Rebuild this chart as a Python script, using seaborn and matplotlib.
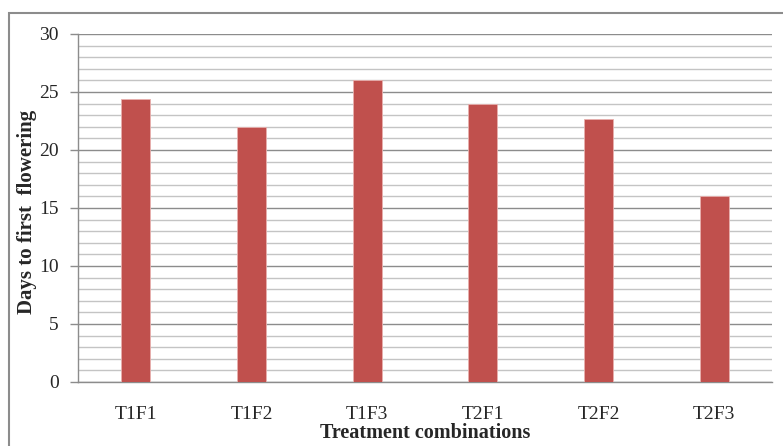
import matplotlib
matplotlib.use("Agg")
import matplotlib.pyplot as plt
import seaborn as sns
import pandas as pd
from matplotlib.patches import Rectangle
from matplotlib.ticker import MultipleLocator

categories = ["T1F1", "T1F2", "T1F3", "T2F1", "T2F2", "T2F3"]
days = [24.4, 22.0, 26.0, 24.0, 22.7, 16.0]

sns.set_style("white")
plt.rcParams['font.family'] = ['Liberation Serif', 'DejaVu Serif']

df = pd.DataFrame({"cat": categories, "days": days})

fig = plt.figure(figsize=(7.83, 4.46), dpi=100)
ax = fig.add_axes([78/783, 1 - 382/446, 694/783, 348/446])

sns.barplot(data=df, x="cat", y="days", color="#C0504D", width=0.25,
            saturation=1, edgecolor="#e8b0ae", linewidth=0.6, ax=ax, zorder=3)

ax.set_ylim(0, 30)
ax.set_xlim(-0.5, 5.5)
ax.yaxis.set_major_locator(MultipleLocator(5))
ax.yaxis.set_minor_locator(MultipleLocator(1))
ax.grid(which="major", axis="y", color="#8c8c8c", linewidth=1.0, zorder=0)
ax.grid(which="minor", axis="y", color="#c4c4c4", linewidth=1.0, zorder=0)
ax.set_axisbelow(True)

for s in ["top", "right"]:
    ax.spines[s].set_visible(False)
ax.spines["left"].set_color("#8c8c8c")
ax.spines["bottom"].set_color("#8c8c8c")
ax.spines["left"].set_linewidth(1.0)
ax.spines["bottom"].set_linewidth(1.0)

ax.tick_params(axis="y", which="major", direction="out", length=6, width=1,
               color="#8c8c8c", labelsize=14, pad=8, left=True)
ax.tick_params(axis="y", which="minor", length=0)
ax.tick_params(axis="x", length=0, labelsize=14, pad=17)

ax.set_xlabel("Treatment combinations", fontsize=14.5, fontweight="bold")
ax.set_ylabel("Days to first  flowering", fontsize=15, fontweight="bold")
ax.xaxis.set_label_coords(0.5, -0.118)
ax.yaxis.set_label_coords(-0.059, 0.49)

fig.patches.append(Rectangle((9/783, -0.05), 1.1, 1 - 13/446 + 0.05,
                             transform=fig.transFigure, fill=False,
                             edgecolor="#8c8c8c", linewidth=1.5))

fig.savefig("out.png", dpi=100)
